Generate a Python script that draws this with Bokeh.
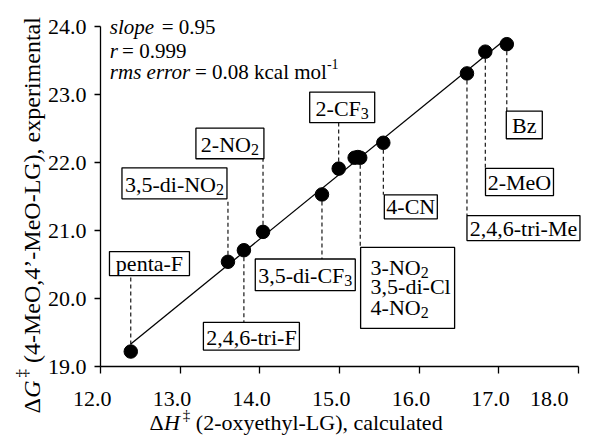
import math
import numpy as np
from bokeh.plotting import figure
from bokeh.models import Range1d, FixedTicker, NumeralTickFormatter, Label
from bokeh.embed import file_html
from bokeh.resources import INLINE

# ---------------- data ----------------
compounds = ["penta-F", "3,5-di-NO2", "2,4,6-tri-F", "2-NO2", "3,5-di-CF3", "2-CF3",
             "3-NO2", "3,5-di-Cl", "4-NO2", "4-CN", "2,4,6-tri-Me", "2-MeO", "Bz"]
dH_calc = [12.38, 13.60, 13.80, 14.04, 14.78, 14.99, 15.19, 15.23, 15.26, 15.55, 16.60, 16.83, 17.10]
dG_exp = [19.22, 20.54, 20.71, 20.98, 21.53, 21.91, 22.07, 22.08, 22.07, 22.29, 23.31, 23.63, 23.74]
x_ticks = [12.0, 13.0, 14.0, 15.0, 16.0, 17.0, 18.0]
y_ticks = [19.0, 20.0, 21.0, 22.0, 23.0, 24.0]
x_label_rest = "(2-oxyethyl-LG), calculated"
y_label_rest = "(4-MeO,4’-MeO-LG), experimental"
stat_slope = "0.95"
stat_r = "0.999"
stat_rms = "0.08"

# ---------------- layout ----------------
W, H = 590, 436
AX_L, AX_R, AX_T, AX_B = 100, 578, 26, 366      # pixel box of the axes
XPX = (AX_R - AX_L) / (x_ticks[-1] - x_ticks[0])
YPX = (AX_B - AX_T) / (y_ticks[-1] - y_ticks[0])
FONT = "Liberation Serif"
FS = 22
SUB = 16
FIX = 6          # baseline correction (px, upward)
NB = "\u00a0"


def X(px):
    return x_ticks[0] + (px - AX_L) / XPX


def Y(py):
    return y_ticks[-1] - (py - AX_T) / YPX


# label boxes: lines(pieces), anchor compound, dx (px from point), cy (data), w, h, align, baselines
boxes = [
    ([[("penta-F", "n")]], "penta-F", 18.7, 20.514, 80, 24, "c", [6]),
    ([[("3,5-di-NO", "n"), ("2", "s")]], "3,5-di-NO2", -53.5, 21.694, 105, 31, "c", [7]),
    ([[("2-NO", "n"), ("2", "s")]], "2-NO2", -33.1, 22.280, 68, 30.6, "c", [7]),
    ([[("2,4,6-tri-F", "n")]], "2,4,6-tri-F", 7.5, 19.445, 96, 27.6, "c", [7]),
    ([[("3,5-di-CF", "n"), ("3", "s")]], "3,5-di-CF3", -16.7, 20.348, 100, 31.7, "c", [7]),
    ([[("2-CF", "n"), ("3", "s")]], "2-CF3", 3.5, 22.810, 65, 30.6, "c", [7]),
    ([[("3-NO", "n"), ("2", "s")], [("3,5-di-Cl", "n")], [("4-NO", "n"), ("2", "s")]],
     "4-NO2", 47.4, 20.156, 94, 81, "l", [-14.5, 4.5, 26]),
    ([[("4-CN", "n")]], "4-CN", 27.5, 21.348, 53, 24, "c", [6]),
    ([[("2,4,6-tri-Me", "n")]], "2,4,6-tri-Me", 56.5, 21.035, 113, 25, "c", [6]),
    ([[("2-MeO", "n")]], "2-MeO", 34.2, 21.714, 68, 27.3, "c", [7]),
    ([[("Bz", "n")]], "Bz", 17.5, 22.552, 36, 27.6, "c", [7]),
]

CW = {'0': 500, '1': 500, '2': 500, '3': 500, '4': 500, '5': 500, '6': 500, '7': 500, '8': 500,
      '9': 500, ',': 250, '.': 250, '-': 333, ' ': 250, NB: 250, 'N': 722, 'O': 722, 'C': 667,
      'F': 556, 'M': 889, 'B': 667, 'd': 500, 'i': 278, 'l': 278, 'e': 444, 'n': 500, 'p': 500,
      't': 278, 'a': 444, 'r': 333, 'z': 444, 'o': 500, 'k': 500, 'c': 444, 'm': 778, 'x': 500,
      '=': 564, 'Δ': 612, 'H': 722, 'G': 722, '‡': 500}


def tw(s, size):
    return sum(CW.get(c, 500) for c in s) / 1000.0 * size


p = figure(width=W, height=H, x_range=Range1d(X(0), X(W)), y_range=Range1d(Y(H), Y(0)),
           output_backend="svg", toolbar_location=None, min_border=0,
           min_border_left=0, min_border_right=0, min_border_top=0, min_border_bottom=0)
p.outline_line_color = None
p.xgrid.visible = False
p.ygrid.visible = False
p.background_fill_color = "white"
p.border_fill_color = "white"

for ax in (p.xaxis[0], p.yaxis[0]):
    ax.axis_line_color = "black"
    ax.axis_line_width = 1.3
    ax.major_tick_line_color = "black"
    ax.major_tick_line_width = 1.3
    ax.major_tick_in = 0
    ax.minor_tick_line_color = None
    ax.major_label_text_font = FONT
    ax.major_label_text_font_size = f"{FS}px"
    ax.major_label_text_color = "black"
    ax.formatter = NumeralTickFormatter(format="0.0")

p.xaxis.ticker = FixedTicker(ticks=x_ticks)
p.yaxis.ticker = FixedTicker(ticks=y_ticks)
p.xaxis.bounds = (x_ticks[0], x_ticks[-1])
p.yaxis.bounds = (y_ticks[0], y_ticks[-1])
p.xaxis.fixed_location = y_ticks[0]
p.yaxis.fixed_location = x_ticks[0]
p.xaxis.major_label_overrides = {t: f"{t:.1f}" + NB * (4 if t == x_ticks[-1] else 3) for t in x_ticks}
p.xaxis.major_tick_out = 7
p.yaxis.major_tick_out = 6
p.xaxis.major_label_standoff = 12
p.yaxis.major_label_standoff = 8


def add_text(x, y, t, xo, yo, size, style="normal", angle=0.0):
    p.add_layout(Label(x=x, y=y, text=t, x_offset=xo, y_offset=yo, angle=angle,
                       text_font=FONT, text_font_size=f"{size}px", text_font_style=style,
                       text_align="left", text_baseline="alphabetic", text_color="black"))


# fit line from the data
k, b = np.polyfit(dH_calc, dG_exp, 1)
xf = [min(dH_calc), max(dH_calc)]
p.line(xf, [k * v + b for v in xf], line_color="black", line_width=1.3)

# boxes + leaders
bx, by, bw, bh = [], [], [], []
lx, ly0, ly1 = [], [], []
for lines, anchor, dx, cy, w, h, align, bases in boxes:
    i = compounds.index(anchor)
    px, py = dH_calc[i], dG_exp[i]
    cx = px + dx / XPX
    bx.append(cx); by.append(cy); bw.append(w); bh.append(h)
    edge = cy + (h / 2) / YPX if cy < py else cy - (h / 2) / YPX
    lx.append(px); ly0.append(py); ly1.append(edge)
    for pieces, base in zip(lines, bases):
        total = sum(tw(t, FS if kd == "n" else SUB) for t, kd in pieces)
        off = -total / 2 if align == "c" else -w / 2 + 10
        for t, kd in pieces:
            size = FS if kd == "n" else SUB
            yo = -base if kd == "n" else -base - 5
            add_text(cx, cy, t, off, yo + FIX, size)
            off += tw(t, size)

p.segment(x0=lx, y0=ly0, x1=lx, y1=ly1, line_color="black", line_width=1.1,
          line_dash="4 3", level="underlay")
p.rect(x=bx, y=by, width=bw, height=bh, width_units="screen", height_units="screen",
       fill_color="white", line_color="black", line_width=1.3)

# points
p.scatter(dH_calc, dG_exp, size=13.5, color="black")

# statistics text
SX = X(109.3)
SF = 21
stat_lines = [
    (Y(32.5), [("slope", "italic", 0), (NB + "=" + NB + stat_slope, "normal", 0)]),
    (Y(56.0), [("r", "italic", 0), (NB + "=" + NB + stat_r, "normal", 0)]),
    (Y(77.3), [("rms error", "italic", 0), (NB + "=" + NB + stat_rms + " kcal mol", "normal", 0),
               ("-1", "sup", 8)]),
]
for yy, pieces in stat_lines:
    off = 0.0
    for t, st, up in pieces:
        size = 14 if st == "sup" else SF
        add_text(SX, yy, t, off, up + FIX, size, "italic" if st == "italic" else "normal")
        off += tw(t, size)

# x axis title (composed)
xs0, xb = X(149), Y(428)
off = 0.0
for t, st, size, up, gap in [("Δ", "normal", 22, 0, 0), ("H", "italic", 22, 0, 1),
                              ("‡", "normal", 15, 8, 3), (NB + x_label_rest, "normal", 22, 0, 0)]:
    off += gap
    add_text(xs0, xb, t, off, up + FIX, size, st)
    off += tw(t, size)

# y axis title (composed, rotated)
ys0, yx = Y(413), X(37)
off = 0.0
for t, st, size, up, gap in [("Δ", "normal", 24, 0, 0), ("G", "italic", 24, 0, 1),
                              ("‡", "normal", 17, 9, 3), (NB + y_label_rest, "normal", 24, 0, 0)]:
    off += gap
    add_text(yx, ys0, t, -up - FIX, off, size, st, angle=math.pi / 2)
    off += tw(t, size)

open("out.html", "w", encoding="utf-8").write(file_html(p, INLINE, title="chart"))
